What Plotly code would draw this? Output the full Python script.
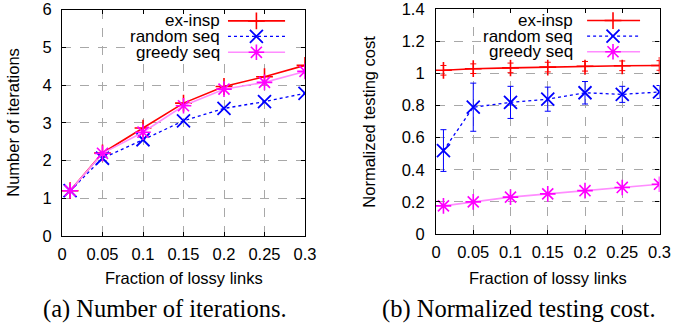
import plotly.graph_objects as go

# ---------------- data ----------------
x_frac = [0.01, 0.05, 0.1, 0.15, 0.2, 0.25, 0.3]
x_ticks = [0, 0.05, 0.1, 0.15, 0.2, 0.25, 0.3]
x_ticklabels = ["0", "0.05", "0.1", "0.15", "0.2", "0.25", "0.3"]

iter_exinsp = [1.2, 2.2, 2.86, 3.52, 3.96, 4.22, 4.52]
iter_random = [1.2, 2.06, 2.55, 3.05, 3.38, 3.56, 3.78]
iter_greedy = [1.2, 2.19, 2.75, 3.45, 3.89, 4.07, 4.36]
y1_ticks = [0, 1, 2, 3, 4, 5, 6]

cost_exinsp = [1.02, 1.03, 1.035, 1.04, 1.045, 1.048, 1.05]
cost_exinsp_err = [0.03, 0.03, 0.03, 0.03, 0.03, 0.03, 0.03]
cost_random = [0.52, 0.79, 0.82, 0.84, 0.88, 0.87, 0.885]
cost_random_err = [0.13, 0.15, 0.10, 0.075, 0.07, 0.05, 0.04]
cost_greedy = [0.175, 0.2, 0.23, 0.25, 0.27, 0.29, 0.31]
y2_ticks = [0, 0.2, 0.4, 0.6, 0.8, 1.0, 1.2, 1.4]
y2_ticklabels = ["0", "0.2", "0.4", "0.6", "0.8", "1", "1.2", "1.4"]

series_names = ["ex-insp", "random seq", "greedy seq"]
captions = ["(a) Number of iterations.", "(b) Normalized testing cost."]
x_title = "Fraction of lossy links"
y_titles = ["Number of iterations", "Normalized testing cost"]

# ---------------- styles ----------------
W, H = 673, 326
RED, BLUE, MAG, PINK = "#ff0000", "#0000ff", "#ff00ff", "#ff8cff"
SANS = "Liberation Sans, Arial, sans-serif"
SERIF = "Liberation Serif, Times New Roman, serif"

styles = [
    dict(line=dict(color=RED, width=1.6),
         marker=dict(symbol="cross-thin", size=12, color=RED, line=dict(color=RED, width=1.6))),
    dict(line=dict(color=BLUE, width=1.3, dash="dot"),
         marker=dict(symbol="x-thin", size=13, color=BLUE, line=dict(color=BLUE, width=1.8))),
    dict(line=dict(color=PINK, width=1.6),
         marker=dict(symbol="asterisk", size=13, color=MAG, line=dict(color=MAG, width=1.6))),
]

def px_dom_x(a, b):
    return [a / W, b / W]

def px_dom_y(top, bottom):
    return [1 - bottom / H, 1 - top / H]

dom1x = px_dom_x(62, 305)
dom1y = px_dom_y(9.5, 236)
dom2x = px_dom_x(436, 659.5)
dom2y = px_dom_y(9.3, 234)

fig = go.Figure()

# ---- left chart
left_data = [iter_exinsp, iter_random, iter_greedy]
for name, ys, st in zip(series_names, left_data, styles):
    fig.add_trace(go.Scatter(x=x_frac, y=ys, name=name, mode="lines+markers",
                             xaxis="x", yaxis="y", showlegend=False, **st))

# ---- right chart
right_data = [cost_exinsp, cost_random, cost_greedy]
right_err = [cost_exinsp_err, cost_random_err, None]
err_cols = [RED, BLUE, MAG]
for name, ys, err, st, ec in zip(series_names, right_data, right_err, styles, err_cols):
    kw = {}
    if err is not None:
        kw["error_y"] = dict(type="data", array=err, visible=True, color=ec,
                             thickness=1, width=3)
    fig.add_trace(go.Scatter(x=x_frac, y=ys, name=name, mode="lines+markers",
                             xaxis="x2", yaxis="y2", showlegend=False, **st, **kw))

# ---- custom legends (text on left, sample on right), on overlay axes 0..1
legend_rows = [0.95, 0.881, 0.811]
legend_cfg = [
    dict(xa="x3", ya="y3", ref="x", yref="y", line=(0.683, 0.918), mark=0.80,
         text_r=0.658, box=(0.27, 0.95, 0.77, 0.99)),
    dict(xa="x4", ya="y4", ref="x2", yref="y2", line=(0.676, 0.913), mark=0.792,
         text_r=0.622, box=(0.205, 0.94, 0.775, 0.99)),
]
annotations = []
for cfg in legend_cfg:
    bx0, bx1, by0, by1 = cfg["box"]
    fig.add_trace(go.Scatter(x=[bx0, bx1, bx1, bx0, bx0], y=[by0, by0, by1, by1, by0],
                             mode="lines", fill="toself", fillcolor="white",
                             line=dict(width=0, color="white"), xaxis=cfg["xa"],
                             yaxis=cfg["ya"], showlegend=False, hoverinfo="skip"))
    for name, yy, st in zip(series_names, legend_rows, styles):
        fig.add_trace(go.Scatter(x=[cfg["line"][0], cfg["line"][1]], y=[yy, yy],
                                 mode="lines", line=st["line"], xaxis=cfg["xa"],
                                 yaxis=cfg["ya"], showlegend=False, hoverinfo="skip"))
        fig.add_trace(go.Scatter(x=[cfg["mark"]], y=[yy], mode="markers",
                                 marker=st["marker"], xaxis=cfg["xa"], yaxis=cfg["ya"],
                                 showlegend=False, hoverinfo="skip"))
        annotations.append(dict(text=name, xref=cfg["ref"] + " domain",
                                yref=cfg["yref"] + " domain", x=cfg["text_r"], y=yy,
                                xanchor="right", yanchor="middle", showarrow=False,
                                font=dict(family=SANS, size=17, color="black")))

# ---- axis titles and captions
annotations += [
    dict(text=x_title, xref="x domain", yref="paper", x=0.5, y=1 - 278 / H,
         xanchor="center", yanchor="middle", showarrow=False,
         font=dict(family=SANS, size=16.5, color="black")),
    dict(text=x_title, xref="x2 domain", yref="paper", x=0.5, y=1 - 278 / H,
         xanchor="center", yanchor="middle", showarrow=False,
         font=dict(family=SANS, size=16.5, color="black")),
    dict(text=y_titles[0], xref="paper", yref="y domain", x=13 / W, y=0.5,
         xanchor="center", yanchor="middle", textangle=-90, showarrow=False,
         font=dict(family=SANS, size=16.5, color="black")),
    dict(text=y_titles[1], xref="paper", yref="y2 domain", x=369 / W, y=0.5,
         xanchor="center", yanchor="middle", textangle=-90, showarrow=False,
         font=dict(family=SANS, size=16.5, color="black")),
    dict(text=captions[0], xref="paper", yref="paper", x=165 / W, y=1 - 309 / H,
         xanchor="center", yanchor="middle", showarrow=False,
         font=dict(family=SERIF, size=24.5, color="black")),
    dict(text=captions[1], xref="paper", yref="paper", x=519 / W, y=1 - 309 / H,
         xanchor="center", yanchor="middle", showarrow=False,
         font=dict(family=SERIF, size=24.5, color="black")),
]

common_axis = dict(showline=True, linecolor="black", linewidth=1.2, mirror="allticks",
                   ticks="inside", ticklen=4, tickcolor="black", showgrid=True,
                   gridcolor="#a8a8a8", griddash="dash", gridwidth=1, zeroline=False,
                   automargin=False,
                   tickfont=dict(family=SANS, size=16.5, color="black"))

fig.update_layout(
    width=W, height=H, margin=dict(l=0, r=0, t=0, b=0),
    paper_bgcolor="white", plot_bgcolor="white", showlegend=False,
    xaxis=dict(domain=dom1x, anchor="y", range=[0, 0.3], tickvals=x_ticks,
               ticktext=x_ticklabels, ticklabelstandoff=3, **common_axis),
    yaxis=dict(domain=dom1y, anchor="x", range=[0, 6], tickvals=y1_ticks,
               ticklabelstandoff=6, **common_axis),
    xaxis2=dict(domain=dom2x, anchor="y2", range=[0, 0.3], tickvals=x_ticks,
                ticktext=x_ticklabels, ticklabelstandoff=3, **common_axis),
    yaxis2=dict(domain=dom2y, anchor="x2", range=[0, 1.4], tickvals=y2_ticks,
                ticktext=y2_ticklabels, ticklabelstandoff=7, **common_axis),
    xaxis3=dict(domain=dom1x, anchor="y3", overlaying="x", range=[0, 1], visible=False),
    yaxis3=dict(domain=dom1y, anchor="x3", overlaying="y", range=[0, 1], visible=False),
    xaxis4=dict(domain=dom2x, anchor="y4", overlaying="x2", range=[0, 1], visible=False),
    yaxis4=dict(domain=dom2y, anchor="x4", overlaying="y2", range=[0, 1], visible=False),
    annotations=annotations,
)

fig.write_html("out.html",
               config={"displayModeBar": False},
               post_script="document.body.style.margin='0';"
                           "document.body.style.overflow='hidden';")
